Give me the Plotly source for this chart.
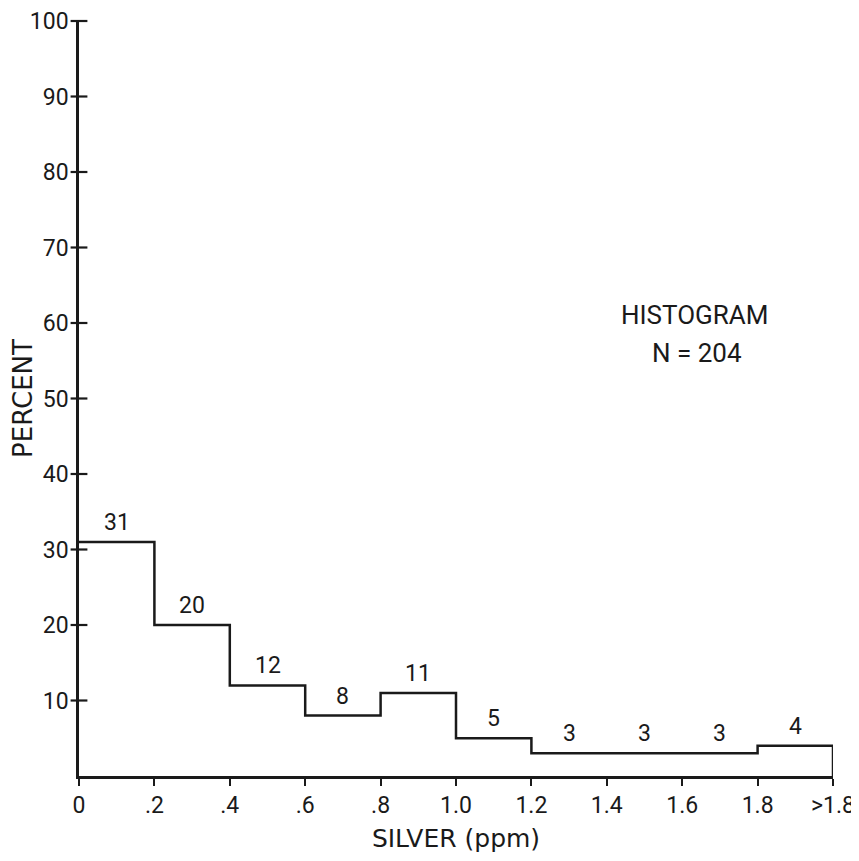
import plotly.graph_objects as go

# Data
bin_edges = [0.0, 0.2, 0.4, 0.6, 0.8, 1.0, 1.2, 1.4, 1.6, 1.8, 2.0]
percent = [31, 20, 12, 8, 11, 5, 3, 3, 3, 4]
x_tick_vals = [0.0, 0.2, 0.4, 0.6, 0.8, 1.0, 1.2, 1.4, 1.6, 1.8, 2.0]
x_tick_text = ["0", ".2", ".4", ".6", ".8", "1.0", "1.2", "1.4", "1.6", "1.8", ">1.8"]
y_tick_vals = [10, 20, 30, 40, 50, 60, 70, 80, 90, 100]
title_lines = ["HISTOGRAM", "N = 204"]

FONT = "Roboto"
TFONT = "DejaVu Sans"
INK = "#1a1a1a"
FS = 23

# step outline
step_x = [bin_edges[0]]
step_y = [percent[0]]
for i, v in enumerate(percent):
    step_x += [bin_edges[i], bin_edges[i + 1]]
    step_y += [v, v]
step_x.append(bin_edges[-1])
step_y.append(0)

centers = [(bin_edges[i] + bin_edges[i + 1]) / 2 for i in range(len(percent))]

fig = go.Figure()
fig.add_trace(go.Scatter(
    x=step_x, y=step_y, mode="lines",
    line=dict(color=INK, width=2.5), hoverinfo="skip", cliponaxis=False,
))
# crossing ticks on the y axis
fig.add_trace(go.Scatter(
    x=[0] * len(y_tick_vals), y=y_tick_vals, mode="markers",
    marker=dict(symbol="line-ew", size=12, line=dict(color=INK, width=2.2)),
    cliponaxis=False, hoverinfo="skip",
))

for c, v in zip(centers, percent):
    fig.add_annotation(
        x=c, y=v, xref="x", yref="y", text=str(v), showarrow=False,
        yanchor="bottom", yshift=4,
        font=dict(family=FONT, size=FS, color=INK),
    )

fig.add_annotation(
    x=1.635, y=61, xref="x", yref="y", text=title_lines[0], showarrow=False,
    font=dict(family=FONT, size=26, color=INK),
)
fig.add_annotation(
    x=1.64, y=56, xref="x", yref="y", text=title_lines[1], showarrow=False,
    font=dict(family=FONT, size=26, color=INK),
)

# page body has an 8px default margin, so the figure is shrunk and shifted
fig.update_layout(
    width=851, height=845,
    margin=dict(l=71, r=26, t=13, b=77, autoexpand=False),
    paper_bgcolor="white", plot_bgcolor="white",
    showlegend=False,
    font=dict(family=FONT, size=FS, color=INK),
)
fig.update_xaxes(
    range=[0, 2.0], showgrid=False, zeroline=False, automargin=False,
    showline=True, linecolor=INK, linewidth=2.5,
    tickmode="array", tickvals=x_tick_vals, ticktext=x_tick_text,
    ticks="outside", ticklen=7, tickwidth=2, tickcolor=INK,
    tickfont=dict(family=FONT, size=FS, color=INK),
    title=dict(text="SILVER (ppm)", font=dict(family=TFONT, size=25, color=INK), standoff=14),
)
fig.update_yaxes(
    range=[0, 100], showgrid=False, zeroline=False, automargin=False,
    showline=True, linecolor=INK, linewidth=2.5,
    tickmode="array", tickvals=y_tick_vals,
    ticks="", ticklen=0, ticklabelstandoff=3,
    tickfont=dict(family=FONT, size=FS, color=INK),
    title=dict(text="PERCENT", font=dict(family=TFONT, size=26, color=INK), standoff=1),
)

fig.write_html("out.html")
